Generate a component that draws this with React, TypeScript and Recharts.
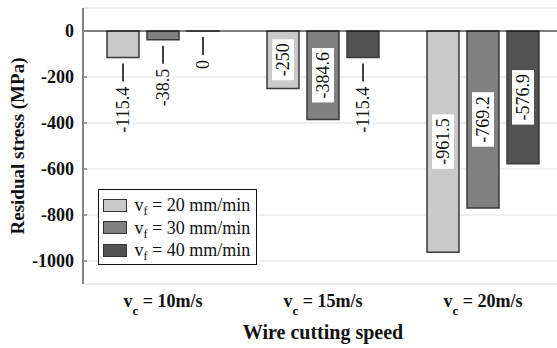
import React from 'react';
import {
  BarChart,
  Bar,
  XAxis,
  YAxis,
  CartesianGrid,
  ReferenceLine,
  Legend,
  LabelList,
  Label,
} from 'recharts';

// ---- data ----
const categories = ['10m/s', '15m/s', '20m/s'];
const vf20 = [-115.4, -250, -961.5];
const vf30 = [-38.5, -384.6, -769.2];
const vf40 = [0, -115.4, -576.9];
const seriesNames = ['20 mm/min', '30 mm/min', '40 mm/min'];
const yTicks = [-1000, -800, -600, -400, -200, 0];
const gridTicks = [1, 2, 3, 4, 5, 6, 7, 8, 9, 10, 11];

const data = categories.map((c, i) => ({
  cat: c,
  s20: vf20[i],
  s30: vf30[i],
  s40: vf40[i],
}));

// ---- style ----
const SERIF = '"Liberation Serif", "Times New Roman", Times, serif';
const COLORS = ['#c9c9c9', '#808080', '#525252'];
const BAR_STROKE = '#3a3a3a';
const FRAME = '#858585';

const textLen = (s: string) =>
  [...s].reduce((a, ch) => a + (ch === '-' ? 6 : ch === '.' ? 4.5 : 9), 0);

const renderLabel = (props: any) => {
  const vb = props.viewBox || {};
  const x = props.x ?? vb.x;
  const y = props.y ?? vb.y;
  const width = props.width ?? vb.width;
  const height = props.height ?? vb.height ?? 0;
  const value = props.value;
  if (x == null || y == null) return null;
  const cx = x + width / 2;
  const top = Math.min(y, y + height);
  const bottom = Math.max(y, y + height);
  const s = String(value);
  const len = textLen(s);
  const textEl = (
    <text
      x={0}
      y={0}
      dy="0.35em"
      textAnchor="middle"
      fontFamily={SERIF}
      fontSize={18}
      fill="#111"
    >
      {s}
    </text>
  );
  if (bottom - top < 40) {
    const b = bottom;
    const tc = b + 29 + len / 2;
    return (
      <g>
        <line x1={cx} x2={cx} y1={b + 6} y2={b + 24} stroke="#111" strokeWidth={1.6} />
        <g transform={`translate(${cx},${tc}) rotate(-90)`}>
          <rect x={-len / 2 - 3} y={-10} width={len + 6} height={20} fill="#fff" />
          {textEl}
        </g>
      </g>
    );
  }
  const cy = (top + bottom) / 2;
  return (
    <g transform={`translate(${cx},${cy}) rotate(-90)`}>
      <rect x={-len / 2 - 4} y={-11} width={len + 8} height={22} fill="#fff" />
      {textEl}
    </g>
  );
};

const XTick = (props: any) => {
  const { x, y, payload } = props;
  return (
    <text
      x={x}
      y={y + 23}
      textAnchor="middle"
      fontFamily={SERIF}
      fontWeight="bold"
      fontSize={18}
      fill="#111"
    >
      <tspan>v</tspan>
      <tspan dy={8} fontSize={13}>c</tspan>
      <tspan dy={-8}>{' = ' + payload.value}</tspan>
    </text>
  );
};

const YTitle = (props: any) => {
  const vb = props.viewBox || { x: 0, y: 0, width: 0, height: 0 };
  return (
    <text
      transform={`translate(${vb.x + 17},${vb.y + vb.height / 2}) rotate(-90)`}
      dy="0.35em"
      textAnchor="middle"
      fontFamily={SERIF}
      fontWeight="bold"
      fontSize={19}
      fill="#111"
    >
      Residual stress (MPa)
    </text>
  );
};

const LegendBox = () => (
  <div
    style={{
      width: 159,
      height: 76,
      boxSizing: 'border-box',
      border: '1.5px solid #111',
      background: '#fff',
      padding: '4px 0 4px 3.5px',
      fontFamily: SERIF,
      fontSize: 18,
      color: '#111',
      textAlign: 'left',
    }}
  >
    {seriesNames.map((n, i) => (
      <div key={n} style={{ height: 22.5, display: 'flex', alignItems: 'center' }}>
        <span
          style={{
            width: 24,
            height: 13,
            boxSizing: 'border-box',
            border: '1.5px solid #333',
            background: COLORS[i],
            marginRight: 8,
            display: 'inline-block',
          }}
        />
        <span style={{ lineHeight: 1, whiteSpace: 'nowrap' }}>
          v
          <span style={{ fontSize: 12, position: 'relative', top: 4 }}>f</span>
          {' = ' + n}
        </span>
      </div>
    ))}
  </div>
);

export default function App() {
  return (
    <div
      style={{
        position: 'absolute',
        left: 0,
        top: 0,
        width: 557,
        height: 348,
        overflow: 'hidden',
        background: '#fff',
      }}
    >
      <BarChart
        width={570}
        height={348}
        data={data}
        margin={{ top: 8, right: 7, bottom: 0, left: 0 }}
        barSize={32}
        barGap={8}
      >
        <CartesianGrid xAxisId="t" stroke="#dedede" strokeWidth={1} />
        <XAxis
          xAxisId="b"
          type="number"
          domain={[0, 12]}
          ticks={gridTicks}
          orientation="bottom"
          height={0}
          mirror
          tickSize={4}
          tick={false}
          axisLine={{ stroke: FRAME, strokeWidth: 2 }}
          tickLine={{ stroke: FRAME, strokeWidth: 1.5 }}
        />
        <XAxis
          xAxisId="t"
          type="number"
          domain={[0, 12]}
          ticks={gridTicks}
          orientation="top"
          height={0}
          mirror
          tickSize={4}
          tick={false}
          axisLine={{ stroke: FRAME, strokeWidth: 2 }}
          tickLine={{ stroke: FRAME, strokeWidth: 1.5 }}
        />
        <XAxis
          xAxisId="cat"
          dataKey="cat"
          type="category"
          height={64}
          axisLine={false}
          tickLine={false}
          tickSize={0}
          tickMargin={0}
          interval={0}
          tick={<XTick />}
        >
          <Label
            value="Wire cutting speed"
            position="insideBottom"
            offset={9}
            fontFamily={SERIF}
            fontWeight="bold"
            fontSize={20}
            fill="#111"
          />
        </XAxis>
        <YAxis
          type="number"
          domain={[-1100, 100]}
          ticks={yTicks}
          interval={0}
          width={83}
          allowDataOverflow
          axisLine={{ stroke: FRAME, strokeWidth: 2 }}
          tickLine={{ stroke: FRAME, strokeWidth: 1.5 }}
          tickSize={-4}
          tickMargin={13}
          tick={{ fontFamily: SERIF, fontWeight: 'bold', fontSize: 18, fill: '#111' }}
        >
          <Label content={<YTitle />} />
        </YAxis>
        <Bar xAxisId="cat" dataKey="s20" fill={COLORS[0]} stroke={BAR_STROKE} strokeWidth={1.5} minPointSize={0.01} isAnimationActive={false}>
          <LabelList dataKey="s20" content={renderLabel} />
        </Bar>
        <Bar xAxisId="cat" dataKey="s30" fill={COLORS[1]} stroke={BAR_STROKE} strokeWidth={1.5} minPointSize={0.01} isAnimationActive={false}>
          <LabelList dataKey="s30" content={renderLabel} />
        </Bar>
        <Bar xAxisId="cat" dataKey="s40" fill={COLORS[2]} stroke={BAR_STROKE} strokeWidth={1.5} minPointSize={0.01} isAnimationActive={false}>
          <LabelList dataKey="s40" content={renderLabel} />
        </Bar>
        <ReferenceLine xAxisId="cat" y={0} stroke="#111" strokeWidth={1.2} />
        <Legend
          layout="vertical"
          align="center"
          verticalAlign="middle"
          content={<LegendBox />}
          wrapperStyle={{ position: 'absolute', left: 98, top: 189, width: 'auto', height: 'auto' }}
        />
      </BarChart>
    </div>
  );
}
